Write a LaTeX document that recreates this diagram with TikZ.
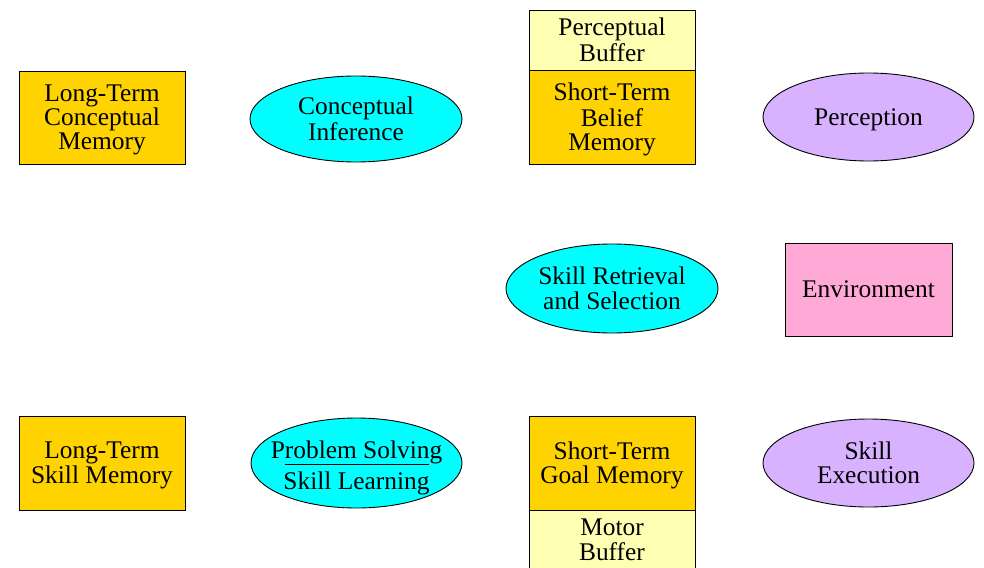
\documentclass[tikz,border=0pt]{standalone}
\usepackage{fontspec}
\setmainfont{Liberation Serif}
\usetikzlibrary{shapes.geometric}
\definecolor{gold}{HTML}{FFD300}
\definecolor{paleyellow}{HTML}{FFFFB4}
\definecolor{cyanfill}{HTML}{00FFFF}
\definecolor{lavender}{HTML}{D8B2FF}
\definecolor{pinkfill}{HTML}{FFAAD6}
\newcommand{\lbl}[2][9.5pt]{\raisebox{-#1}[0pt][0pt]{\begin{tabular}{@{}c@{}}#2\end{tabular}}}
\tikzset{
  base/.style={draw=black, line width=0.9pt, align=center, inner sep=0pt,
    font=\fontsize{25.4}{24}\selectfont},
  membox/.style={base, rectangle, fill=gold, minimum width=166pt, minimum height=93pt},
  bufbox/.style={base, rectangle, fill=paleyellow, minimum width=166pt, minimum height=60pt},
  procell/.style={base, ellipse, inner xsep=-15pt, fill=cyanfill, minimum width=212pt, minimum height=87pt},
  perell/.style={base, ellipse, inner xsep=-15pt, fill=lavender, minimum width=211pt, minimum height=88pt},
  envbox/.style={base, rectangle, fill=pinkfill, minimum width=167pt, minimum height=93pt}
}
\begin{document}
\begin{tikzpicture}[x=1pt,y=-1pt]
\useasboundingbox[fill=white] (0,0) rectangle (984,567);
\node[membox] (ltcm) at (102,117.5) {\lbl{Long-Term\\Conceptual\\Memory}};
\node[procell, minimum height=86pt] (ci) at (356,119) {\lbl{Conceptual\\Inference}};
\node[bufbox] (pb) at (612,40) {\lbl{Perceptual\\Buffer}};
\node[membox, minimum height=94pt] (stbm) at (612,117) {\lbl{Short-Term\\Belief\\Memory}};
\node[perell] (perc) at (868.5,117) {\lbl{Perception}};
\node[procell, minimum height=89pt] (srs) at (612,288.5) {\lbl{Skill Retrieval\\and Selection}};
\node[envbox] (env) at (868.5,289.5) {\lbl{Environment}};
\node[membox, minimum height=94pt] (ltsm) at (102,463) {\lbl{Long-Term\\Skill Memory}};
\node[procell, minimum width=211pt, minimum height=90pt] (psl) at (356.5,463) {\lbl[12pt]{Problem Solving\\[6pt]Skill Learning}};
\draw[line width=1pt] ([xshift=-72pt,yshift=-1pt]psl.center) coordinate (ula) -- ([xshift=72pt,yshift=-1pt]psl.center) coordinate (ulb);
\node[membox, minimum height=94pt] (stgm) at (612,463) {\lbl{Short-Term\\Goal Memory}};
\node[bufbox] (mb) at (612,540) {\lbl{Motor\\Buffer}};
\node[perell] (se) at (868.5,463) {\lbl{Skill\\Execution}};
\end{tikzpicture}
\end{document}
